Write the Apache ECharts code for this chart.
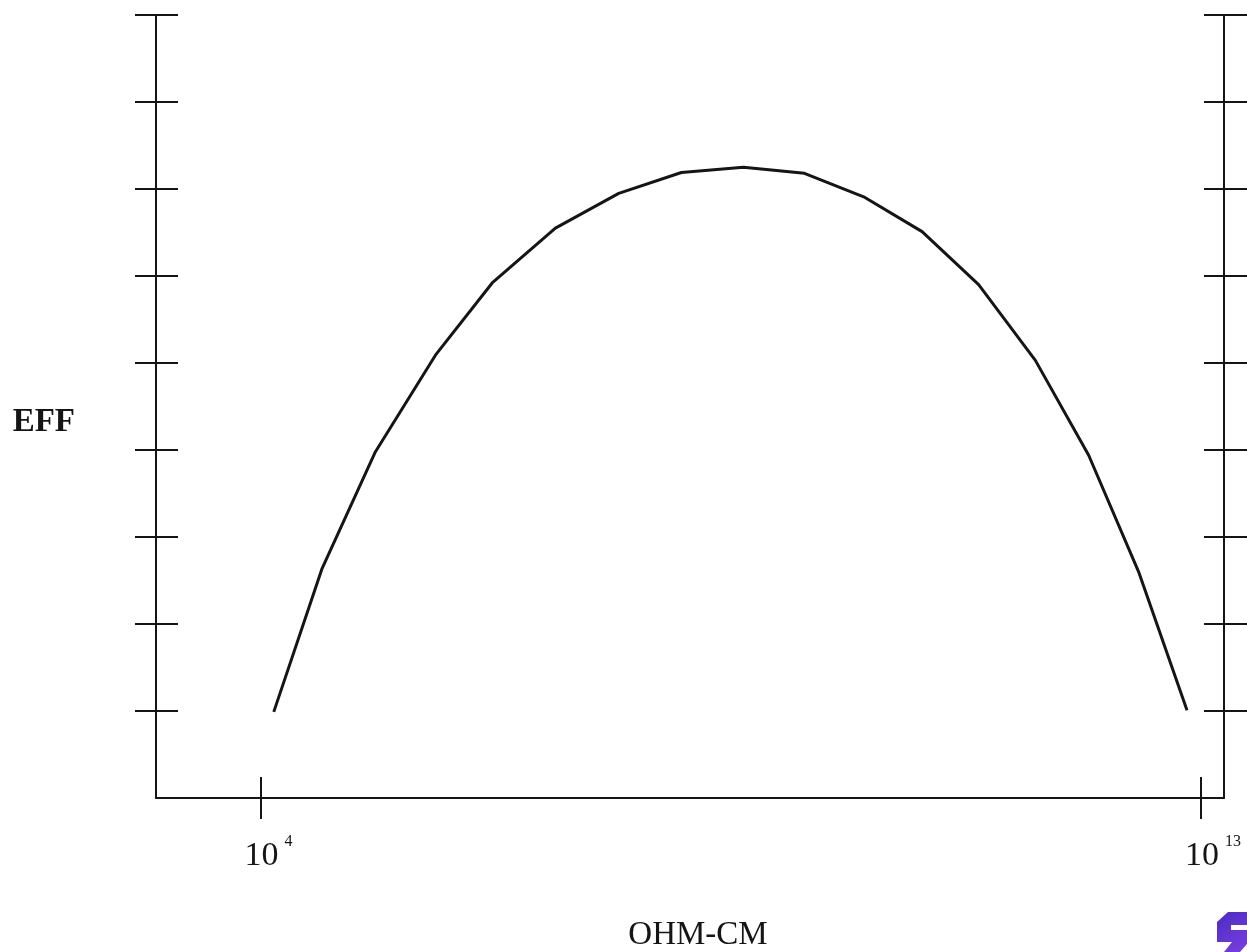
<!DOCTYPE html>
<html>
<head>
<meta charset="utf-8">
<style>
html,body{margin:0;padding:0;background:#fff;overflow:hidden;}
#chart{width:1247px;height:952px;}
</style>
<script src="https://cdn.jsdelivr.net/npm/echarts@6/dist/echarts.min.js"></script>
</head>
<body>
<div id="chart"></div>
<script>
// log10(resistivity, ohm-cm)
const logResistivity = [4.127, 4.590, 5.100, 5.674, 6.217, 6.822, 7.428, 8.028, 8.621, 9.205, 9.772, 10.331, 10.872, 11.415, 11.925, 12.403, 12.866];
const efficiency = [0.99, 2.64, 3.98, 5.09, 5.92, 6.55, 6.95, 7.19, 7.25, 7.18, 6.91, 6.51, 5.90, 5.03, 3.94, 2.60, 1.01];
const xTickValues = [4, 13];
const xTickExponents = {4: '4', 13: '13'};
const yTickValues = [1, 2, 3, 4, 5, 6, 7, 8, 9];
const xTitle = 'OHM-CM';
const yTitle = 'EFF';

const chart = echarts.init(document.getElementById('chart'), null, {renderer: 'canvas'});
const black = '#151515';
const font = 'Liberation Serif';
const lineW = 2;

function yAx(position, inside, len, showLine, extra) {
  return Object.assign({
    type: 'value', min: 0, max: 9, interval: 1, position: position,
    axisLine: {show: showLine, onZero: false, lineStyle: {color: black, width: lineW}},
    axisTick: {show: true, inside: inside, length: len, customValues: yTickValues, lineStyle: {color: black, width: lineW}},
    axisLabel: {show: false},
    splitLine: {show: false}
  }, extra || {});
}
function xAx(inside, showLine, extra) {
  return Object.assign({
    type: 'value', min: 3, max: 13.22, position: 'bottom',
    axisLine: {show: showLine, onZero: false, lineStyle: {color: black, width: lineW}},
    axisTick: {show: true, inside: inside, length: 21, customValues: xTickValues, lineStyle: {color: black, width: lineW}},
    axisLabel: {show: false},
    splitLine: {show: false}
  }, extra || {});
}

const option = {
  backgroundColor: '#ffffff',
  animation: false,
  grid: {left: 156, right: 23, top: 15, bottom: 154, containLabel: false, outerBoundsMode: 'none'},
  xAxis: [
    xAx(false, true, {
      name: xTitle, nameLocation: 'middle', nameGap: 120,
      nameTextStyle: {fontFamily: font, fontSize: 33, color: black, lineHeight: 34, padding: [0, 0, 0, 16]},
      axisLabel: {
        show: true, customValues: xTickValues, margin: 36,
        formatter: function (v) {
          const e = xTickExponents[v];
          return (e.length > 1 ? '{b2|10}' : '{b1|10}') + '{s|' + e + '}';
        },
        rich: {
          b1: {fontFamily: font, fontSize: 34, color: black, lineHeight: 34, padding: [11, 0, 0, 16]},
          b2: {fontFamily: font, fontSize: 34, color: black, lineHeight: 34, padding: [11, 0, 0, 24]},
          s: {fontFamily: font, fontSize: 16, color: black, lineHeight: 14, verticalAlign: 'top', padding: [0, 0, 0, 6]}
        }
      }
    }),
    xAx(true, false)
  ],
  yAxis: [
    yAx('left', false, 21, true, {
      name: yTitle, nameLocation: 'middle', nameRotate: 0, nameGap: 81,
      nameTextStyle: {fontFamily: font, fontSize: 33, fontWeight: 'bold', color: black, verticalAlign: 'top', lineHeight: 32}
    }),
    yAx('left', true, 22, false),
    yAx('right', true, 20, true),
    yAx('right', false, 23, false)
  ],
  series: [{
    type: 'line',
    xAxisIndex: 0, yAxisIndex: 0,
    data: logResistivity.map((x, i) => [x, efficiency[i]]),
    showSymbol: false, symbol: 'none', smooth: false,
    lineStyle: {color: black, width: 3},
    silent: true
  }],
  graphic: [{
    type: 'polygon', silent: true,
    shape: {points: [[1228, 912], [1247, 912], [1247, 925], [1231, 925], [1231, 930], [1247, 930], [1247, 944], [1240, 952], [1224, 952], [1232, 942], [1217, 942], [1217, 922]]},
    style: {fill: new echarts.graphic.LinearGradient(0, 0, 1, 1, [{offset: 0, color: '#4a2bc4'}, {offset: 1, color: '#7b3fe0'}])}
  }]
};
chart.setOption(option);
</script>
</body>
</html>
